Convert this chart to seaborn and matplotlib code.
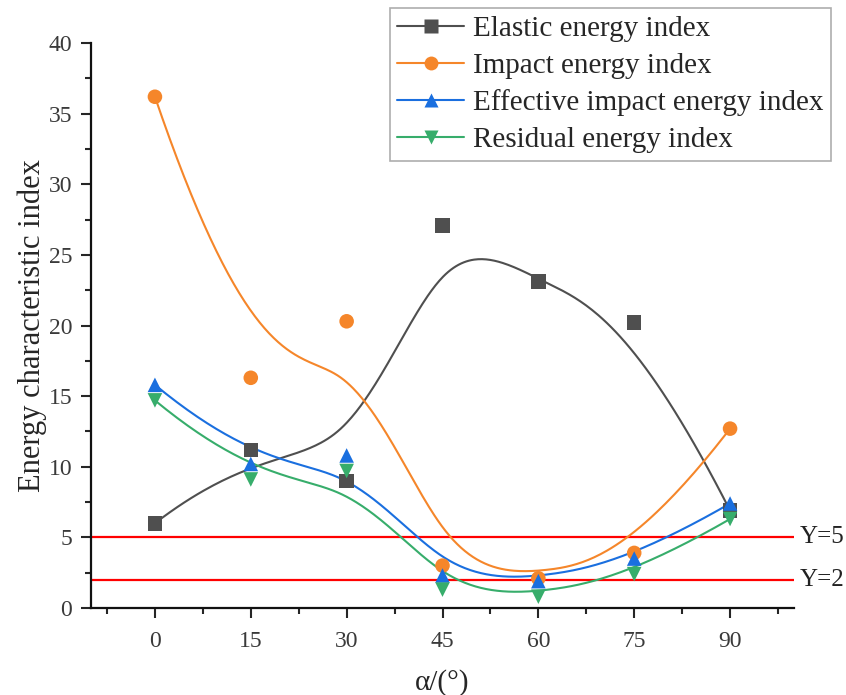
import numpy as np
import pandas as pd
import matplotlib
matplotlib.use('Agg')
import matplotlib.pyplot as plt
from matplotlib.lines import Line2D
from matplotlib.ticker import MultipleLocator
import seaborn as sns

# 数据
angles = [0, 15, 30, 45, 60, 75, 90]
elastic = [6.0, 11.2, 9.0, 27.1, 23.1, 20.2, 6.9]
impact = [36.2, 16.3, 20.3, 3.0, 2.1, 3.9, 12.7]
effective = [15.8, 10.2, 10.8, 2.3, 1.9, 3.5, 7.4]
residual = [14.7, 9.1, 9.7, 1.3, 0.8, 2.4, 6.3]

series_names = ['Elastic energy index', 'Impact energy index',
                'Effective impact energy index', 'Residual energy index']
series_values = [elastic, impact, effective, residual]
colors = ['#4F4F4F', '#F5862A', '#1A6FDF', '#37AD6B']
markers = ['s', 'o', '^', 'v']
ref_levels = [5, 2]


def bspline(px, py, n=300, k=3):
    """以数据点为控制点的夹紧三次B样条（Origin 的 B-Spline 连线方式）"""
    px = np.asarray(px, float)
    py = np.asarray(py, float)
    m = len(px)
    inner = np.arange(1, m - k)
    knots = np.concatenate([np.zeros(k + 1), inner, np.full(k + 1, m - k)])
    t = np.linspace(0, m - k, n)
    t[-1] -= 1e-9
    # Cox-de Boor 递推
    B = np.zeros((n, len(knots) - 1))
    for i in range(len(knots) - 1):
        B[:, i] = (t >= knots[i]) & (t < knots[i + 1])
    for d in range(1, k + 1):
        Bn = np.zeros((n, len(knots) - 1 - d))
        for i in range(len(knots) - 1 - d):
            a = knots[i + d] - knots[i]
            b = knots[i + d + 1] - knots[i + 1]
            left = (t - knots[i]) / a * B[:, i] if a > 0 else 0
            right = (knots[i + d + 1] - t) / b * B[:, i + 1] if b > 0 else 0
            Bn[:, i] = left + right
        B = Bn
    return B @ px, B @ py


points = pd.concat([pd.DataFrame({'angle': angles, 'value': v, 'series': s})
                    for s, v in zip(series_names, series_values)])
curves = []
for s, v in zip(series_names, series_values):
    cx, cy = bspline(angles, v)
    curves.append(pd.DataFrame({'angle': cx, 'value': cy, 'series': s}))
curves = pd.concat(curves)

sns.set_style('ticks')
plt.rcParams['font.family'] = ['Liberation Serif', 'DejaVu Serif']

fig = plt.figure(figsize=(8.46, 6.95), dpi=100)
ax = fig.add_axes([0.1076, 0.1252, 0.8309, 0.8128])

palette = dict(zip(series_names, colors))
sns.lineplot(data=curves, x='angle', y='value', hue='series', palette=palette,
             sort=False, estimator=None, linewidth=1.5, legend=False, ax=ax)
for s, c, mk in zip(series_names, colors, markers):
    sub = points[points['series'] == s]
    sns.scatterplot(data=sub, x='angle', y='value', color=c, marker=mk,
                    s=110, edgecolor='none', legend=False, ax=ax, zorder=3)

for lv in ref_levels:
    ax.axhline(lv, color='#FF0000', linewidth=1.6, zorder=1)
    ax.text(1.008, lv, f'Y={lv}', transform=ax.get_yaxis_transform(),
            va='center', ha='left', fontsize=18, color='#222222', clip_on=False)

ax.set_xlim(-10, 100)
ax.set_ylim(0, 40)
ax.set_xticks(angles)
ax.xaxis.set_minor_locator(MultipleLocator(7.5))
ax.yaxis.set_major_locator(MultipleLocator(5))
ax.yaxis.set_minor_locator(MultipleLocator(2.5))
ax.tick_params(which='major', length=7.5, width=1.5, labelsize=17,
               labelcolor='#3A3A3A', direction='out')
ax.tick_params(which='minor', length=4, width=1.5, direction='out')
ax.tick_params(axis='x', which='major', pad=9)
ax.tick_params(axis='y', which='major', pad=6)
for sp in ['left', 'bottom']:
    ax.spines[sp].set_linewidth(1.6)
    ax.spines[sp].set_color('#111111')
sns.despine(ax=ax)

ax.set_xlabel('α/(°)', fontsize=21, labelpad=12)
ax.set_ylabel('Energy characteristic index', fontsize=22, labelpad=1)

handles = [Line2D([], [], color=c, marker=mk, markersize=10, linewidth=1.5,
                  markeredgecolor='none')
           for c, mk in zip(colors, markers)]
leg = fig.legend(handles, series_names, loc='upper right',
                 bbox_to_anchor=(0.982, 0.988), fontsize=21, frameon=True,
                 fancybox=False, edgecolor='#999999', handlelength=2.3,
                 handletextpad=0.3, borderpad=0.25, labelspacing=0.36,
                 borderaxespad=0)
leg.get_frame().set_linewidth(1.2)

fig.savefig('out.png', dpi=100)
